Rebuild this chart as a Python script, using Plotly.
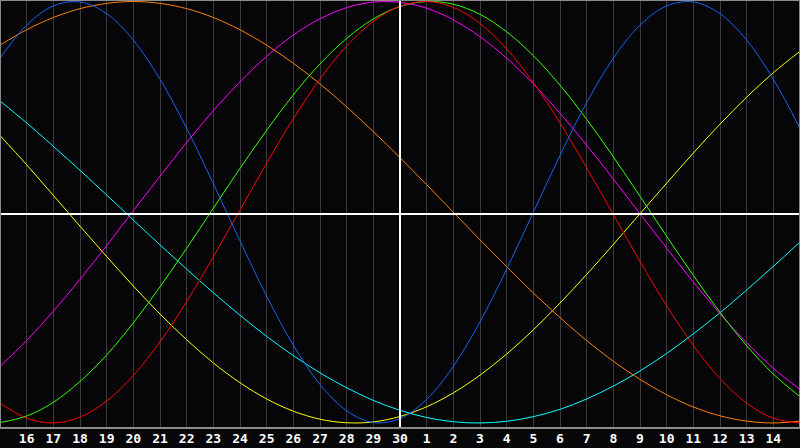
import plotly.graph_objects as go

# Day index 0..30 (0 = the 15th of the previous month at the left edge)
day_index = list(range(31))
tick_positions = list(range(1, 30))
tick_labels = ["16", "17", "18", "19", "20", "21", "22", "23", "24", "25", "26", "27", "28", "29", "30",
               "1", "2", "3", "4", "5", "6", "7", "8", "9", "10", "11", "12", "13", "14"]
today_index = 15

# Curve values (-1 .. 1), one per day
physical = [0.731, 0.888, 0.979, 0.998, 0.942, 0.817, 0.631, 0.398, 0.136, -0.136, -0.398, -0.631, -0.817,
            -0.942, -0.998, -0.979, -0.888, -0.731, -0.520, -0.270, 0.000, 0.270, 0.520, 0.731, 0.888,
            0.979, 0.998, 0.942, 0.817, 0.631, 0.398]
emotional = [-0.906, -0.977, -1.000, -0.972, -0.896, -0.775, -0.615, -0.424, -0.211, 0.011, 0.233, 0.444,
             0.632, 0.789, 0.906, 0.977, 1.000, 0.972, 0.896, 0.775, 0.615, 0.424, 0.211, -0.011, -0.233,
             -0.444, -0.632, -0.789, -0.906, -0.977, -1.000]
intellectual = [-0.998, -0.967, -0.902, -0.803, -0.677, -0.525, -0.354, -0.171, 0.019, 0.208, 0.389, 0.557,
                0.704, 0.825, 0.917, 0.976, 1.000, 0.987, 0.939, 0.856, 0.743, 0.603, 0.441, 0.263, 0.076,
                -0.114, -0.300, -0.475, -0.633, -0.768, -0.875]
intuitive = [-0.731, -0.609, -0.470, -0.318, -0.158, 0.007, 0.171, 0.331, 0.482, 0.619, 0.740, 0.841, 0.918,
             0.971, 0.997, 0.996, 0.968, 0.913, 0.833, 0.731, 0.609, 0.470, 0.318, 0.158, -0.007, -0.171,
             -0.331, -0.482, -0.619, -0.740, -0.841]
aesthetic = [0.364, 0.225, 0.080, -0.066, -0.210, -0.350, -0.483, -0.605, -0.715, -0.809, -0.886, -0.944,
             -0.982, -0.999, -0.995, -0.969, -0.923, -0.857, -0.773, -0.673, -0.558, -0.431, -0.295, -0.153,
             -0.007, 0.138, 0.281, 0.418, 0.546, 0.662, 0.764]
awareness = [0.793, 0.866, 0.924, 0.966, 0.991, 1.000, 0.991, 0.966, 0.924, 0.866, 0.793, 0.707, 0.609, 0.500,
             0.383, 0.259, 0.131, 0.000, -0.131, -0.259, -0.383, -0.500, -0.609, -0.707, -0.793, -0.866,
             -0.924, -0.966, -0.991, -1.000, -0.991]
spiritual = [0.528, 0.424, 0.313, 0.199, 0.082, -0.037, -0.155, -0.270, -0.382, -0.489, -0.589, -0.680, -0.762,
             -0.833, -0.893, -0.940, -0.974, -0.994, -1.000, -0.992, -0.970, -0.935, -0.886, -0.825, -0.753,
             -0.670, -0.577, -0.477, -0.369, -0.257, -0.141]

series = [
    ("Aesthetic", aesthetic, "#ffff00"),
    ("Spiritual", spiritual, "#00ffff"),
    ("Awareness", awareness, "#ff7f00"),
    ("Intuitive", intuitive, "#ff00ff"),
    ("Intellectual", intellectual, "#33ff00"),
    ("Emotional", emotional, "#ff0000"),
    ("Physical", physical, "#1464f0"),
]

BG = "#060609"

fig = go.Figure()
for name, vals, color in series:
    fig.add_trace(go.Scatter(x=day_index, y=vals, mode="lines", name=name,
                             line=dict(color=color, width=1, shape="spline", smoothing=1),
                             hoverinfo="skip"))

# today line and zero line
fig.add_shape(type="line", xref="x", yref="paper", x0=today_index, x1=today_index, y0=0, y1=1,
              line=dict(color="#ffffff", width=2), layer="above")
fig.add_shape(type="line", xref="paper", yref="y", x0=0, x1=1, y0=-0.008, y1=-0.008,
              line=dict(color="#ffffff", width=2), layer="above")
# frame
fig.add_shape(type="rect", xref="paper", yref="paper", x0=0, x1=1, y0=0, y1=1,
              line=dict(color="#8a8a8a", width=2), layer="above")

fig.update_layout(
    width=800, height=448,
    margin=dict(l=0, r=0, t=0, b=20),
    paper_bgcolor=BG, plot_bgcolor=BG,
    showlegend=False,
    xaxis=dict(range=[0, 30], tickvals=tick_positions, ticktext=tick_labels,
               showgrid=True, gridcolor="#3a3a3a", gridwidth=1, zeroline=False,
               showline=False, ticks="", ticklabelstandoff=1,
               tickfont=dict(family="DejaVu Sans Mono", size=13, color="#ffffff", weight="bold"),
               fixedrange=True),
    yaxis=dict(range=[-1.0238, 1.0071], showgrid=False, zeroline=False, showticklabels=False,
               ticks="", showline=False, fixedrange=True),
)

fig.write_html("out.html", config={"displayModeBar": False},
               post_script="document.body.style.margin='0';document.body.style.background='" + BG + "';")
